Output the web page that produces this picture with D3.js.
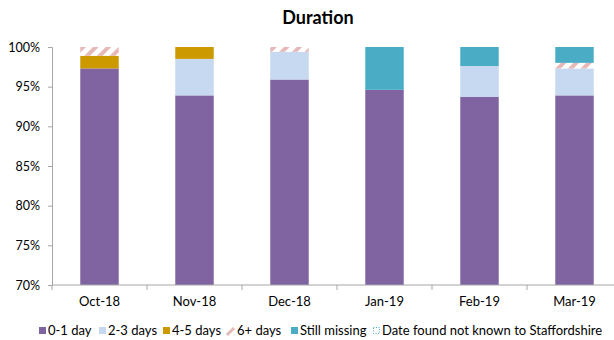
<!DOCTYPE html>
<html>
<head>
<meta charset="utf-8">
<script src="https://cdn.jsdelivr.net/npm/d3@7"></script>
<style>
  html, body { margin: 0; padding: 0; background: #fff; }
  svg { display: block; font-family: Lato, "Open Sans", sans-serif; }
</style>
</head>
<body>
<svg id="chart" width="614" height="340"></svg>
<script>
// Monthly durations, as a share of all cases (%)
const months = ["Oct-18", "Nov-18", "Dec-18", "Jan-19", "Feb-19", "Mar-19"];
const day01 = [97.3, 93.9, 95.9, 94.6, 93.7, 93.9];
const days23 = [0, 4.6, 3.5, 0, 3.9, 3.4];
const days45 = [1.6, 1.5, 0, 0, 0, 0];
const days6plus = [1.1, 0, 0.6, 0, 0, 0.7];
const stillMissing = [0, 0, 0, 5.4, 2.4, 2.0];
const notKnown = [0, 0, 0, 0, 0, 0];
const yTicks = [70, 75, 80, 85, 90, 95, 100];

const seriesNames = ["0-1 day", "2-3 days", "4-5 days", "6+ days", "Still missing", "Date found not known to Staffordshire"];
const seriesValues = [day01, days23, days45, days6plus, stillMissing, notKnown];
const fills = ["#8064a2", "#c6d9f1", "#cc9a00", "url(#hatch6)", "#4bacc6", "url(#dotsNK)"];

const svg = d3.select("#chart");
const defs = svg.append("defs");

// diagonal pink stripes for "6+ days"
const hatch = defs.append("pattern")
  .attr("id", "hatch6").attr("patternUnits", "userSpaceOnUse")
  .attr("width", 9).attr("height", 9)
  .attr("patternTransform", "rotate(45)");
hatch.append("rect").attr("width", 9).attr("height", 9).attr("fill", "#fff");
hatch.append("rect").attr("width", 4).attr("height", 9).attr("fill", "#e6b9b8");

// dotted fill for "Date found not known"
const dots = defs.append("pattern")
  .attr("id", "dotsNK").attr("patternUnits", "userSpaceOnUse")
  .attr("width", 3).attr("height", 3);
dots.append("rect").attr("width", 3).attr("height", 3).attr("fill", "#fff");
dots.append("rect").attr("width", 1).attr("height", 1).attr("fill", "#4bacc6");

const x = d3.scaleBand().domain(months).range([52, 622])
  .paddingInner(0.595).paddingOuter(0.2975);
const y = d3.scaleLinear().domain([70, 100]).range([285, 47]);

// stack the series
const table = months.map((m, i) => {
  const row = { month: m };
  seriesNames.forEach((s, k) => { row[s] = seriesValues[k][i]; });
  return row;
});
const stacked = d3.stack().keys(seriesNames)(table);

const bars = svg.append("g");
stacked.forEach((layer, k) => {
  bars.selectAll(null).data(layer.filter(d => d[1] - d[0] > 0)).enter()
    .append("rect")
    .attr("x", d => x(d.data.month))
    .attr("width", x.bandwidth())
    .attr("y", d => y(Math.min(d[1], 100)))
    .attr("height", d => y(Math.max(d[0], 70)) - y(Math.min(d[1], 100)))
    .attr("fill", fills[k]);
});

// y axis
const yAxis = svg.append("g").attr("transform", "translate(52,0)")
  .call(d3.axisLeft(y).tickValues(yTicks).tickFormat(d => d + "%").tickSize(4).tickPadding(8));
yAxis.select(".domain").attr("stroke", "#a6a6a6");
yAxis.selectAll(".tick line").attr("stroke", "#a6a6a6");
yAxis.selectAll("text").attr("font-size", 12.5).attr("fill", "#000").attr("font-family", "Lato, sans-serif");

// x axis: category boundary ticks
const bounds = months.map(m => x(m) - x.step() * x.paddingInner() / 2);
const xg = svg.append("g");
xg.append("line").attr("x1", 52).attr("x2", 614).attr("y1", 285).attr("y2", 285).attr("stroke", "#a6a6a6");
xg.selectAll(null).data(bounds).enter().append("line")
  .attr("x1", d => d).attr("x2", d => d).attr("y1", 285).attr("y2", 290).attr("stroke", "#a6a6a6");
xg.selectAll(null).data(months).enter().append("text")
  .attr("x", d => x(d) + x.bandwidth() / 2).attr("y", 306)
  .attr("text-anchor", "middle").attr("font-size", 13).text(d => d);

// title
svg.append("text").attr("x", 318).attr("y", 24).attr("text-anchor", "middle")
  .attr("font-size", 18).attr("font-weight", "bold").text("Duration");

// legend
const legendX = [39, 99, 163, 226, 291, 373];
const lg = svg.append("g");
seriesNames.forEach((s, k) => {
  const g = lg.append("g").attr("transform", `translate(${legendX[k]},0)`);
  if (k === 3) {
    g.append("path").attr("d", "M1,335 L8,328").attr("stroke", "#e6b9b8").attr("stroke-width", 3);
  } else if (k === 5) {
    g.append("rect").attr("x", 0.5).attr("y", 327.5).attr("width", 6).attr("height", 6)
      .attr("fill", "none").attr("stroke", "#4bacc6").attr("stroke-width", 1).attr("stroke-dasharray", "1,1.5");
  } else {
    g.append("rect").attr("x", 0).attr("y", 327).attr("width", 7).attr("height", 7).attr("fill", fills[k]);
  }
  g.append("text").attr("x", k === 3 ? 11 : 9).attr("y", 335).attr("font-size", 13).text(s);
});
</script>
</body>
</html>
